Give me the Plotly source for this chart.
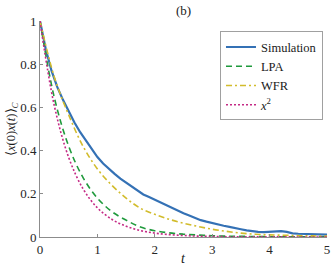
import plotly.graph_objects as go

# ---- data ----
t_sim = [round(0.1 * i, 1) for i in range(51)]
simulation = [1.000, 0.870, 0.770, 0.695, 0.635, 0.580, 0.530, 0.485, 0.445, 0.405,
              0.370, 0.340, 0.315, 0.292, 0.270, 0.252, 0.232, 0.213, 0.197, 0.185,
              0.172, 0.160, 0.148, 0.134, 0.121, 0.110, 0.100, 0.088, 0.078, 0.071,
              0.064, 0.057, 0.052, 0.047, 0.043, 0.036, 0.031, 0.027, 0.024, 0.023,
              0.024, 0.027, 0.027, 0.024, 0.017, 0.015, 0.014, 0.013, 0.012, 0.012,
              0.011]

t_th = [0.0, 0.25, 0.5, 0.75, 1.0, 1.25, 1.5, 1.75, 2.0, 2.25, 2.5, 2.75, 3.0,
        3.25, 3.5, 3.75, 4.0, 4.25, 4.5, 4.75, 5.0]
lpa = [1.0, 0.645, 0.42, 0.275, 0.18, 0.118, 0.078, 0.046, 0.029, 0.019, 0.013,
       0.009, 0.006, 0.004, 0.003, 0.002, 0.0015, 0.001, 0.001, 0.001, 0.001]
wfr = [1.0, 0.74, 0.565, 0.42, 0.315, 0.24, 0.18, 0.133, 0.105, 0.082, 0.064,
       0.049, 0.036, 0.026, 0.018, 0.013, 0.010, 0.008, 0.006, 0.005, 0.004]
xsq = [1.0, 0.607, 0.368, 0.223, 0.135, 0.082, 0.050, 0.030, 0.018, 0.011, 0.007,
       0.004, 0.0025, 0.0015, 0.001, 0.0007, 0.0005, 0.0004, 0.0003, 0.0003, 0.0003]

x_ticks = [0, 1, 2, 3, 4, 5]
y_ticks = [0, 0.2, 0.4, 0.6, 0.8, 1]
y_ticklabels = ["0", "0.2", "0.4", "0.6", "0.8", "1"]

names = ["Simulation", "LPA", "WFR", "<i>x</i><sup>2</sup>"]

SERIF = "Liberation Serif"

fig = go.Figure()
fig.add_trace(go.Scatter(x=t_sim, y=simulation, mode="lines", name=names[0],
                         line=dict(color="#3471b5", width=2.2)))
fig.add_trace(go.Scatter(x=t_th, y=lpa, mode="lines", name=names[1],
                         line=dict(color="#1f9a3c", width=1.6, dash="6px,4px", shape="spline")))
fig.add_trace(go.Scatter(x=t_th, y=wfr, mode="lines", name=names[2],
                         line=dict(color="#d2bc2c", width=1.6, dash="6px,3px,2px,3px", shape="spline")))
fig.add_trace(go.Scatter(x=t_th, y=xsq, mode="lines", name=names[3],
                         line=dict(color="#c42a85", width=1.6, dash="2px,2px", shape="spline")))

axis_common = dict(showgrid=False, zeroline=False, showline=True, linecolor="#8c8c8c",
                   linewidth=1, ticks="inside", ticklen=3, tickcolor="#8c8c8c",
                   tickfont=dict(family=SERIF, size=13, color="#262626"), mirror=False,
                   automargin=False)

fig.update_layout(
    width=332, height=272,
    margin=dict(l=40, r=5, t=21, b=35),
    paper_bgcolor="white", plot_bgcolor="white",
    font=dict(family=SERIF),
    xaxis=dict(range=[0, 5], tickvals=x_ticks, **axis_common),
    yaxis=dict(range=[0, 1], tickvals=y_ticks, ticktext=y_ticklabels, **axis_common),
    legend=dict(x=0.986, y=0.746, xanchor="right", yanchor="middle",
                bgcolor="white", bordercolor="#a0a0a0", borderwidth=1,
                font=dict(family=SERIF, size=12.5, color="#1a1a1a"),
                itemwidth=30, tracegroupgap=0),
    showlegend=True,
    annotations=[
        dict(text="(b)", xref="paper", yref="paper", x=0.5, xanchor="center",
             y=1, yanchor="middle", yshift=11,
             showarrow=False, font=dict(family=SERIF, size=13, color="#1a1a1a")),
        dict(text="<i>t</i>", xref="paper", yref="paper", x=0.5, xanchor="center",
             y=0, yanchor="middle", yshift=-21,
             showarrow=False, font=dict(family=SERIF, size=14, color="#1a1a1a")),
        dict(text="⟨<i>x</i>(0)<i>x</i>(<i>t</i>)⟩<sub><i>C</i></sub>", xref="paper", yref="paper",
             x=0, xshift=-28, xanchor="center", y=0.5, yanchor="middle", textangle=-90,
             showarrow=False, font=dict(family=SERIF, size=12.5, color="#1a1a1a")),
    ],
)

fig.write_html("out.html", config={"displayModeBar": False},
               post_script="document.body.style.margin='0px';")
